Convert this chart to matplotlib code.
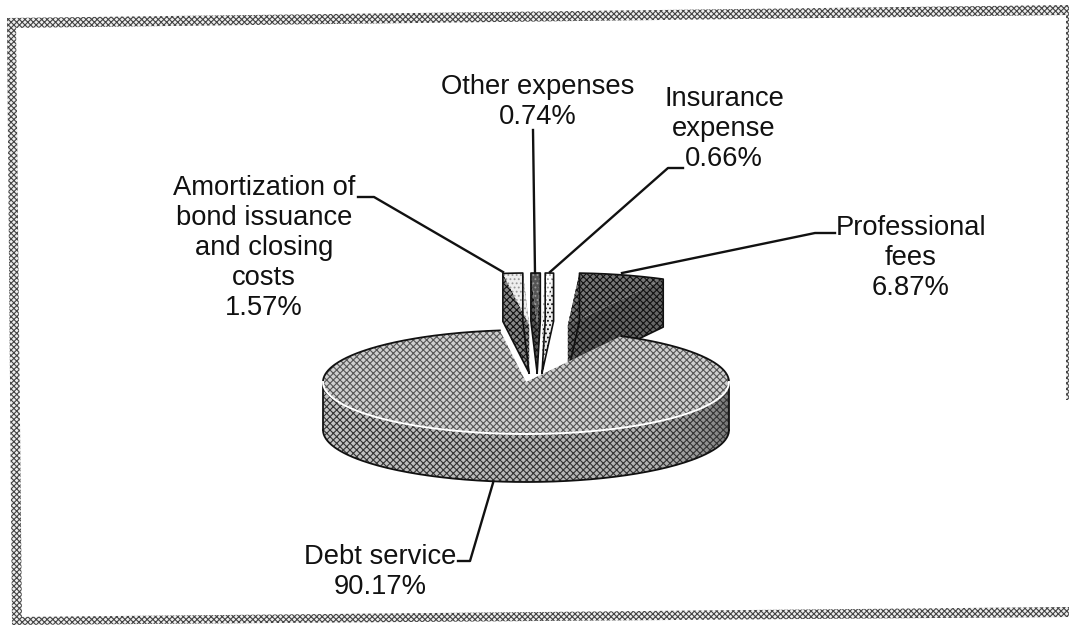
import numpy as np
import matplotlib
matplotlib.use("Agg")
import matplotlib.pyplot as plt
from matplotlib.patches import Polygon

plt.rcParams['font.family'] = ['Liberation Sans', 'DejaVu Sans']
plt.rcParams['hatch.linewidth'] = 0.8

# chart data
names = ["Debt service", "Professional fees", "Insurance expense", "Other expenses", "Amortization"]
shares = [90.17, 6.87, 0.66, 0.74, 1.57]
labels = ["Debt service\n90.17%", "Professional\nfees\n6.87%", "Insurance\nexpense\n0.66%",
          "Other expenses\n0.74%", "Amortization of\nbond issuance\nand closing\ncosts\n1.57%"]

# layout in pixels
cx, cy = 526, 382
rx, ry = 203, 52
depth = 48
start_angle = 62  # where the small slices start, counter clockwise

fig = plt.figure(figsize=(10.69, 6.25), dpi=100)
ax = fig.add_axes([0, 0, 1, 1])
ax.set_xlim(0, 1069)
ax.set_ylim(625, 0)
ax.axis("off")


def arc(a0, a1, ox=0, oy=0):
    t = np.radians(np.linspace(a0, a1, 150))
    return np.column_stack([cx + ox + rx * np.cos(t), cy + oy - ry * np.sin(t)])


# scanned frame, the page was a little crooked
frame = [[(7, 18), (1069, 5), (1069, 15), (7, 28)],
         [(7, 18), (16, 18), (22, 625), (12, 625)],
         [(12, 617), (1069, 607), (1069, 617), (12, 625)],
         [(1066, 12), (1069, 12), (1069, 400), (1066, 400)]]
for pts in frame:
    ax.add_patch(Polygon(pts, fc="#eeeeee", ec="#444444", lw=0, hatch="xxxxxx"))

# small slices, pulled out of the pie
tone = {"Professional fees": ("#777777", "#666666", "xxxxx"),
        "Insurance expense": ("#ffffff", "#eeeeee", "...."),
        "Other expenses": ("#555555", "#555555", "xxxxx"),
        "Amortization": ("#eeeeee", "#888888", "xxxxx")}
angle = start_angle
for name, share in zip(names[1:], shares[1:]):
    sweep = share / 100 * 360
    mid = angle + sweep / 2
    ox = 12 + 111 * np.cos(np.radians(mid))
    oy = -57
    rim = arc(angle, angle + sweep, ox, oy)
    apex = np.array([cx + ox, cy + oy])
    top_col, side_col, tex = tone[name]
    wall1 = np.vstack([apex, rim[-1], rim[-1] + [0, depth], apex + [0, depth]])
    wall2 = np.vstack([apex, rim[0], rim[0] + [0, depth], apex + [0, depth]])
    ax.add_patch(Polygon(wall1, fc=side_col, ec="#111111", lw=0, hatch=tex, zorder=2))
    ax.add_patch(Polygon(wall2, fc=side_col, ec="#111111", lw=0, hatch=tex, zorder=2))
    if name == "Professional fees":
        ax.add_patch(Polygon(np.vstack([apex, rim]), fc=top_col, ec="#111111", lw=0, hatch=tex, zorder=3))
    else:
        ax.add_patch(Polygon(np.vstack([apex, rim]), fc=top_col, ec="#999999", lw=0, hatch="....", zorder=3))
    # outer outline only
    outline = np.vstack([apex + [0, depth], wall1[2], rim[::-1], wall2[2], apex + [0, depth]])
    ax.plot(outline[:, 0], outline[:, 1], color="#111111", lw=1.2, zorder=3)
    angle += sweep

# main slice: side wall gets darker to the right
debt_sweep = shares[0] / 100 * 360
debt_end = start_angle - debt_sweep
steps = np.linspace(180, 360, 37)
shade = np.concatenate([np.linspace(0.78, 0.70, 25), np.linspace(0.70, 0.42, 12)])
for a0, a1, g in zip(steps[:-1], steps[1:], shade):
    part = arc(a0, a1 + 0.5)
    ax.add_patch(Polygon(np.vstack([part, (part + [0, depth])[::-1]]), fc=str(g), ec="none", lw=0, zorder=4))
whole = arc(180, 360)
ax.add_patch(Polygon(np.vstack([whole, (whole + [0, depth])[::-1]]), fc="none", ec="#333333", lw=0,
                     hatch="xxxxx", zorder=4))
under = arc(180, 360) + [0, depth]
ax.plot(under[:, 0], under[:, 1], color="#111111", lw=1.3, zorder=5)
ax.plot([cx - rx, cx - rx], [cy, cy + depth], color="#111111", lw=1.3, zorder=5)
ax.plot([cx + rx, cx + rx], [cy, cy + depth], color="#111111", lw=1.3, zorder=5)

top = np.vstack([[cx, cy], arc(start_angle, debt_end)])
ax.add_patch(Polygon(top, fc="#cfcfcf", ec="#555555", lw=0, hatch="xxxxx", zorder=5))
# rim of the top: dark at the back, pale at the front
for a0, a1 in [(debt_end + 360, 180), (start_angle, 0)]:
    back = arc(a0, a1)
    ax.plot(back[:, 0], back[:, 1], color="#111111", lw=1.3, zorder=6)
front = arc(180, 360)
ax.plot(front[:, 0], front[:, 1], color="white", lw=1.4, zorder=6)

# leader lines
leaders = [([458, 470, 493], [561, 561, 483]),
           ([835, 815, 622], [233, 233, 273]),
           ([683, 668, 550], [168, 168, 272]),
           ([533, 535], [130, 273]),
           ([358, 374, 503], [197, 197, 272])]
for xs, ys in leaders:
    ax.plot(xs, ys, color="#111111", lw=1.7, zorder=7)

# labels
label_pos = [(380, 572), (911, 258), (724, 129), (538, 102), (264, 248)]
for lab, (x, y) in zip(labels, label_pos):
    ax.text(x, y, lab, ha="center", va="center", fontsize=19.7, color="#111111", linespacing=1.2, zorder=8)

fig.savefig("out.png", dpi=100)
